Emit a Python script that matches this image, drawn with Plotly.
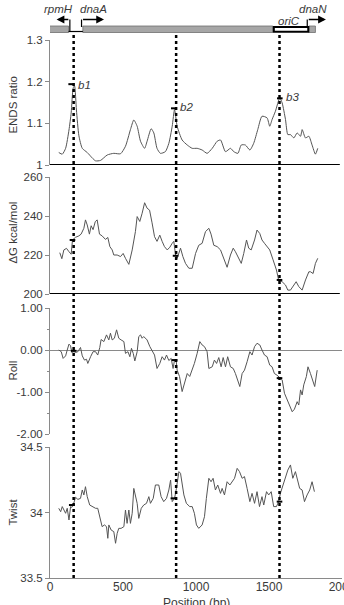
import plotly.graph_objects as go

# ---------------- data ----------------
ends_x = [60, 84, 107, 130, 145, 159, 168, 181, 198, 221, 255, 289, 312, 346, 392, 437, 483, 517, 551, 574,
          597, 620, 648, 665, 693, 711, 733, 756, 790, 814, 837, 853, 871, 905, 940, 974, 1008, 1042, 1076, 1111,
          1145, 1168, 1202, 1236, 1259, 1287, 1310, 1338, 1369, 1395, 1423, 1452, 1487, 1505, 1521, 1544, 1574, 1590, 1613, 1629,
          1647, 1670, 1693, 1716, 1727, 1750, 1773, 1795, 1818, 1834]
ends_y = [1.030, 1.026, 1.040, 1.084, 1.125, 1.185, 1.190, 1.132, 1.070, 1.040, 1.030, 1.017, 1.010, 1.011, 1.024, 1.028, 1.027, 1.045, 1.085, 1.108,
          1.093, 1.057, 1.040, 1.057, 1.087, 1.077, 1.040, 1.028, 1.032, 1.052, 1.093, 1.133, 1.093, 1.060, 1.048, 1.040, 1.040, 1.036, 1.028, 1.040,
          1.057, 1.060, 1.032, 1.040, 1.032, 1.028, 1.048, 1.048, 1.036, 1.052, 1.085, 1.117, 1.113, 1.093, 1.109, 1.129, 1.161, 1.149, 1.109, 1.073,
          1.073, 1.065, 1.077, 1.069, 1.085, 1.065, 1.069, 1.048, 1.026, 1.040]

dg_x = [67, 81, 95, 113, 130, 145, 154, 175, 198, 213, 232, 243, 255, 270, 282, 295, 310, 323, 339, 357,
        380, 396, 410, 426, 437, 460, 483, 501, 517, 540, 563, 585, 597, 615, 631, 648, 665, 682, 699, 716,
        733, 752, 768, 784, 803, 821, 837, 848, 860, 871, 883, 894, 910, 928, 951, 974, 997, 1019, 1042, 1065,
        1088, 1103, 1122, 1145, 1168, 1186, 1213, 1236, 1255, 1270, 1289, 1310, 1327, 1346, 1361, 1378, 1401, 1418, 1437, 1452,
        1469, 1487, 1505, 1528, 1551, 1566, 1590, 1613, 1629, 1647, 1670, 1686, 1704, 1727, 1750, 1761, 1773, 1784, 1802, 1818, 1834]
dg_y = [221.2, 218.1, 222.6, 223.4, 221.7, 220.4, 227.7, 229.1, 229.8, 230.7, 233.7, 238.0, 235.4, 230.7, 235.0, 233.0, 237.1, 238.0, 230.7, 229.8,
        228.0, 229.0, 224.3, 222.6, 220.0, 220.0, 219.2, 220.8, 218.3, 215.2, 222.6, 232.0, 239.7, 237.2, 241.4, 246.8, 244.0, 243.0, 236.5, 229.4,
        227.0, 230.2, 227.0, 224.3, 222.6, 224.0, 226.0, 227.0, 220.0, 218.3, 221.0, 223.5, 219.2, 215.7, 213.2, 213.2, 220.8, 225.0, 226.0, 232.0,
        233.7, 230.7, 225.0, 224.3, 222.6, 219.2, 213.7, 220.0, 223.5, 221.7, 219.0, 215.7, 220.8, 227.7, 223.5, 222.6, 227.7, 232.8, 231.0, 227.7,
        226.0, 224.3, 222.6, 217.5, 212.3, 207.2, 206.3, 204.6, 202.0, 202.0, 204.6, 206.3, 203.8, 202.0, 207.2, 209.7, 211.4, 211.4, 210.5, 215.7, 218.3]

roll_x = [60, 77, 90, 107, 118, 130, 141, 149, 164, 175, 191, 209, 221, 236, 250, 259, 278, 295, 312, 327,
          341, 350, 369, 387, 403, 414, 426, 441, 456, 471, 487, 506, 517, 534, 547, 558, 570, 581, 597, 608,
          620, 631, 642, 665, 684, 699, 716, 733, 752, 768, 784, 798, 814, 830, 843, 853, 864, 871, 887, 905,
          921, 940, 957, 974, 989, 1008, 1026, 1042, 1058, 1076, 1088, 1111, 1126, 1141, 1156, 1172, 1186, 1202, 1217, 1236,
          1255, 1270, 1287, 1300, 1316, 1332, 1350, 1369, 1384, 1401, 1418, 1437, 1452, 1469, 1487, 1505, 1521, 1537, 1555, 1574,
          1590, 1606, 1624, 1642, 1659, 1674, 1693, 1704, 1716, 1727, 1738, 1756, 1767, 1784, 1802, 1813, 1830]
roll_y = [0.00, -0.04, -0.20, -0.14, 0.00, 0.14, 0.10, -0.06, -0.04, -0.06, -0.04, 0.06, -0.14, -0.24, -0.22, -0.32, -0.16, -0.04, -0.04, -0.12,
          0.06, 0.25, 0.20, 0.36, 0.24, 0.40, 0.24, 0.28, 0.48, 0.28, 0.24, 0.20, -0.08, -0.04, -0.16, 0.04, -0.08, -0.26, -0.04, 0.32,
          0.36, 0.28, 0.32, 0.24, 0.08, 0.00, -0.12, -0.44, -0.32, -0.16, -0.24, -0.12, -0.25, -0.20, -0.44, -0.24, -0.24, -0.48, -0.63, -0.99,
          -0.80, -0.56, -0.63, -0.48, -0.32, -0.08, 0.20, 0.12, 0.08, -0.04, -0.44, -0.40, -0.24, -0.32, -0.18, -0.40, -0.18, -0.40, -0.16, -0.40,
          -0.44, -0.56, -0.71, -0.87, -0.56, -0.48, -0.28, -0.04, -0.12, 0.08, 0.16, 0.12, 0.00, -0.12, -0.16, -0.36, -0.40, -0.56, -0.60, -0.67,
          -0.71, -1.03, -1.19, -1.35, -1.47, -1.41, -1.23, -1.31, -0.95, -1.07, -0.83, -0.63, -0.40, -0.56, -0.75, -0.87, -0.48]

twist_x = [60, 73, 84, 95, 107, 118, 130, 141, 149, 159, 175, 191, 209, 221, 232, 243, 255, 272, 289, 312,
           327, 341, 357, 373, 387, 396, 403, 419, 437, 449, 460, 471, 487, 506, 517, 528, 540, 551, 563, 574,
           585, 597, 608, 625, 642, 661, 677, 688, 707, 722, 745, 761, 779, 798, 814, 826, 837, 853, 866, 883,
           894, 905, 917, 934, 957, 974, 989, 1003, 1019, 1042, 1058, 1071, 1088, 1103, 1117, 1133, 1149, 1168, 1179, 1195,
           1213, 1232, 1247, 1264, 1282, 1298, 1316, 1332, 1350, 1369, 1384, 1401, 1418, 1435, 1452, 1464, 1483, 1498, 1515, 1532,
           1551, 1566, 1578, 1596, 1613, 1629, 1647, 1663, 1681, 1697, 1710, 1727, 1743, 1761, 1779, 1795, 1811]
twist_y = [34.032, 34.006, 34.045, 34.024, 33.994, 34.032, 33.943, 34.045, 34.039, 34.057, 34.116, 34.100, 34.108, 34.172, 34.134, 34.197, 34.121, 34.057, 34.045, 34.032,
           34.032, 33.968, 33.892, 33.905, 33.892, 33.803, 33.905, 33.866, 33.854, 33.765, 33.841, 33.879, 33.879, 33.892, 34.019, 33.917, 34.019, 33.917, 33.994, 34.184,
           34.134, 34.070, 33.955, 34.032, 34.057, 34.070, 34.121, 34.070, 34.108, 34.210, 34.210, 34.121, 34.083, 34.108, 34.172, 34.248, 34.083, 34.108, 34.184, 34.312,
           34.299, 34.223, 34.134, 34.070, 34.045, 34.045, 33.994, 33.905, 33.879, 33.905, 33.968, 34.108, 34.261, 34.235, 34.261, 34.172, 34.210, 34.146, 34.184, 34.134,
           34.235, 34.210, 34.235, 34.261, 34.337, 34.312, 34.261, 34.274, 34.184, 34.083, 34.146, 34.070, 34.159, 34.045, 34.121, 34.057, 34.159, 34.134, 34.159, 34.045,
           34.045, 34.083, 34.146, 34.210, 34.274, 34.324, 34.363, 34.261, 34.312, 34.235, 34.184, 34.172, 34.083, 34.134, 34.172, 34.235, 34.159]

# boundaries (dotted lines) and marker values at them
bound_x = [162, 864, 1572]
peak_labels = ["b1", "b2", "b3"]
ends_mark_x = [145, 848, 1574]
ends_mark_y = [1.194, 1.136, 1.160]
dg_mark_x = [154, 860, 1572]
dg_mark_y = [227.7, 219.6, 207.2]
roll_mark_x = [162, 853, 1572]
roll_mark_y = [-0.02, -0.24, -0.67]
twist_mark_x = [149, 845, 1572]
twist_mark_y = [34.057, 34.108, 34.083]

# gene map (bp)
gray_boxes = [(-24, 127), (225, 1526), (1773, 1818)]
oric_box = (1533, 1757)
link_line = (127, 225)

x_ticks = [0, 500, 1000, 1500, 2000]

# ---------------- layout helpers ----------------
H_PLOT = 578.0


def py(row):
    return (H_PLOT - row) / H_PLOT


FONT = "Liberation Sans, Arial, sans-serif"
LINE_COL = "#555555"
AX_COL = "#8a8a8a"
TXT_COL = "#3a3a3a"
FS = 11

fig = go.Figure()

series = [(ends_x, ends_y, "y", "spline"), (dg_x, dg_y, "y2", "linear"),
          (roll_x, roll_y, "y3", "linear"), (twist_x, twist_y, "y4", "linear")]
for xs, ys, ya, shp in series:
    fig.add_trace(go.Scatter(x=xs, y=ys, xaxis="x", yaxis=ya, mode="lines",
                             line=dict(color=LINE_COL, width=1, shape=shp, smoothing=0.6),
                             hoverinfo="skip", showlegend=False))

marks = [(ends_mark_x, ends_mark_y, "y"), (dg_mark_x, dg_mark_y, "y2"),
         (roll_mark_x, roll_mark_y, "y3"), (twist_mark_x, twist_mark_y, "y4")]
for xs, ys, ya in marks:
    fig.add_trace(go.Scatter(x=xs, y=ys, xaxis="x", yaxis=ya, mode="markers",
                             marker=dict(symbol="line-ew-open", size=4, color="black",
                                         line=dict(color="black", width=2)),
                             hoverinfo="skip", showlegend=False))

shapes = []
# dotted boundary lines
for bx in bound_x:
    shapes.append(dict(type="line", xref="x", yref="paper", x0=bx, x1=bx, y0=0, y1=py(33),
                       line=dict(color="black", width=2.5, dash="dot"), layer="above"))
# heavy separators
shapes.append(dict(type="line", xref="x", yref="y", x0=0, x1=1985, y0=1.0, y1=1.0,
                   line=dict(color="black", width=2)))
shapes.append(dict(type="line", xref="x", yref="y2", x0=0, x1=1985, y0=200, y1=200,
                   line=dict(color="black", width=2)))
# gene map
for a, b in gray_boxes:
    shapes.append(dict(type="rect", xref="x", yref="paper", x0=a, x1=b, y0=py(32.5), y1=py(26),
                       fillcolor="#a6a6a6", line=dict(color="#6e6e6e", width=0.8)))
shapes.append(dict(type="line", xref="x", yref="paper", x0=link_line[0], x1=link_line[1], y0=py(31.5), y1=py(31.5),
                   line=dict(color="black", width=1.2)))
shapes.append(dict(type="rect", xref="x", yref="paper", x0=oric_box[0], x1=oric_box[1] + 12, y0=py(31.8), y1=py(27),
                   fillcolor="white", line=dict(color="black", width=2)))
# arrow stems
stems = [(136, 31.5, 19.5), (216, 27, 19.5), (1762, 28, 19.5)]
for sx, r0, r1 in stems:
    shapes.append(dict(type="line", xref="x", yref="paper", x0=sx, x1=sx, y0=py(r0), y1=py(r1),
                       line=dict(color="black", width=1.2)))

annotations = []
arrows = [(136, 45), (216, 370), (1762, 1890)]
for tail, head in arrows:
    annotations.append(dict(x=head, y=py(19.5), xref="x", yref="paper", ax=tail, ay=0,
                            axref="x", ayref="pixel", showarrow=True, arrowhead=2, arrowsize=1.2,
                            arrowwidth=1.3, arrowcolor="black", text=""))
gene_labels = [("rpmH", 58, 9), ("dnaA", 300, 9), ("oriC", 1640, 21.5), ("dnaN", 1800, 9)]
for t, gx, gr in gene_labels:
    annotations.append(dict(x=gx, y=py(gr), xref="x", yref="paper", text=f"<i>{t}</i>", showarrow=False,
                            font=dict(family=FONT, size=FS + 0.5, color=TXT_COL), xanchor="center", yanchor="middle"))
for lab, mx, my in zip(peak_labels, [178, 880, 1600], [1.192, 1.139, 1.162]):
    annotations.append(dict(x=mx, y=my, xref="x", yref="y", text=f"<i>{lab}</i>", showarrow=False,
                            font=dict(family=FONT, size=FS + 0.5, color=TXT_COL), xanchor="left", yanchor="middle"))
# axis titles
titles = [("ENDS ratio", 105), ("\u0394G kcal/mol", 233), ("Roll", 371), ("Twist", 512)]
for t, row in titles:
    annotations.append(dict(x=-0.128, y=py(row), xref="paper", yref="paper", text=t, textangle=-90,
                            showarrow=False, font=dict(family=FONT, size=FS + 0.5, color=TXT_COL),
                            xanchor="center", yanchor="middle"))
annotations.append(dict(x=0.5, y=py(603), xref="paper", yref="paper", text="Position (bp)", showarrow=False,
                        font=dict(family=FONT, size=FS + 1, color=TXT_COL), xanchor="center", yanchor="middle"))

yax_common = dict(showline=True, linecolor=AX_COL, linewidth=1, ticks="outside", ticklen=4, tickcolor=AX_COL,
                  showgrid=False, zeroline=False, tickfont=dict(family=FONT, size=FS + 0.5, color=TXT_COL),
                  anchor="x", fixedrange=True)

fig.update_layout(
    width=344, height=605,
    margin=dict(l=50, r=2, t=0, b=27, autoexpand=False),
    paper_bgcolor="white", plot_bgcolor="white",
    showlegend=False,
    xaxis=dict(domain=[0, 1], range=[0, 2000], anchor="y4", showline=True, linecolor=AX_COL, linewidth=1,
               ticks="", ticklen=0, tickvals=x_ticks, ticktext=[str(v) for v in x_ticks], showgrid=False,
               zeroline=False, tickfont=dict(family=FONT, size=FS + 1, color=TXT_COL), automargin=False,
               ticklabeloverflow="allow", ticklabelstandoff=-2),
    yaxis=dict(domain=[py(165), py(40)], range=[1.0, 1.3], tickvals=[1.0, 1.1, 1.2, 1.3],
               ticktext=["1", "1.1", "1.2", "1.3"], **yax_common),
    yaxis2=dict(domain=[py(294), py(177)], range=[200, 260], tickvals=[200, 220, 240, 260],
                ticktext=["200", "220", "240", "260"], **yax_common),
    yaxis3=dict(domain=[py(434), py(308)], range=[-2, 1], tickvals=[-2, -1, 0, 1],
                ticktext=["-2.00", "-1.00", "0.00", "1.00"],
                minor=dict(dtick=0.5, ticks="outside", ticklen=2, tickcolor=AX_COL), **yax_common),
    yaxis4=dict(domain=[0, py(447)], range=[33.5, 34.5], tickvals=[33.5, 34.0, 34.5],
                ticktext=["33.5", "34", "34.5"], **yax_common),
    shapes=shapes,
    annotations=annotations,
)
# zero line for Roll
fig.update_layout(yaxis3_zeroline=True, yaxis3_zerolinecolor=AX_COL, yaxis3_zerolinewidth=1)

fig.write_html("out.html")
